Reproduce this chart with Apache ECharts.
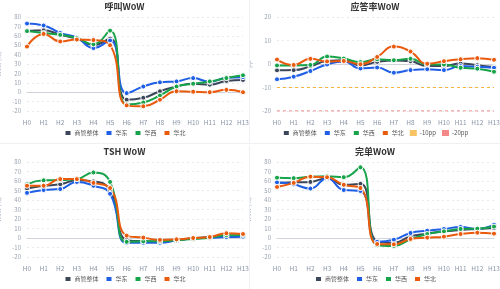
<!DOCTYPE html>
<html>
<head>
<meta charset="utf-8">
<script src="https://cdn.jsdelivr.net/npm/echarts@6/dist/echarts.min.js"></script>
<style>
  html, body { margin: 0; padding: 0; background: #fff; }
  .panel { position: absolute; width: 250px; height: 144px; box-sizing: border-box; }
  #p1 { left: 0; top: 0; border-right: 1px solid #eef0f4; border-bottom: 1px solid #eef0f4; }
  #p2 { left: 250px; top: 0; border-bottom: 1px solid #eef0f4; }
  #p3 { left: 0; top: 145px; border-right: 1px solid #eef0f4; }
  #p4 { left: 250px; top: 145px; }
</style>
</head>
<body>
<div id="p1" class="panel"></div>
<div id="p2" class="panel"></div>
<div id="p3" class="panel"></div>
<div id="p4" class="panel"></div>
<script>
// 小时
var hours = ['H0','H1','H2','H3','H4','H5','H6','H7','H8','H9','H10','H11','H12','H13'];
var regionNames = ['商管整体', '华东', '华西', '华北'];
var regionColors = ['#3b4658', '#1f5fe6', '#17a34a', '#ea5a0c'];

// 呼叫WoW
var callAll   = [65, 66, 61, 57, 50, 57, -8, -6, 1, 6, 9, 8, 12, 13];
var callEast  = [73, 71, 63, 58, 47, 55, -1, 6, 10.5, 11.5, 15, 11, 15.5, 16];
var callWest  = [65, 63, 61, 57.5, 51, 65.5, -13, -11, -3.5, 6, 9, 11.5, 15, 18];
var callNorth = [48.5, 62, 54, 56, 55.5, 50, -14, -15, -8, 1, 0.5, 0, 2.5, 0];

// 应答率WoW
var ansAll   = [-2.7, -2.6, -1, 1.3, 1.6, -0.6, 0.9, 1.5, 1.2, -0.9, -0.8, 0.2, -0.5, -1.3];
var ansEast  = [-6.5, -5.4, -3, -0.2, 1.1, -1.9, -1.5, -3.7, -2.6, -2.2, -2.6, -0.9, -1.2, -1.6];
var ansWest  = [-0.6, -0.6, -0.4, 3.2, 2.3, 0.8, 2, 1.6, 2.2, -0.2, -0.2, -1.6, -2, -3.3];
var ansNorth = [1.9, -0.4, 2.2, 1.1, 1.3, -0.1, 3, 7.4, 5.3, 0.1, 1.2, 2, 2.5, 1.8];
var ref10 = [-10, -10, -10, -10, -10, -10, -10, -10, -10, -10, -10, -10, -10, -10];
var ref20 = [-20, -20, -20, -20, -20, -20, -20, -20, -20, -20, -20, -20, -20, -20];

// TSH WoW
var tshAll   = [52, 55, 56.5, 60.7, 59.6, 50, -2, -3.5, -4, -2.5, -0.3, 1, 1.8, 2];
var tshEast  = [47.5, 50.5, 51.5, 59, 55, 46.5, -5, -5, -5, -2.5, -0.3, 0.3, 1, 1.4];
var tshWest  = [56.5, 60.7, 61, 62, 69, 59, -4, -3.5, -3.5, -2.5, -1, 0.3, 3, 3.2];
var tshNorth = [55, 55, 62, 62, 58, 52.6, 2.5, 0.4, -2, -1.4, 0, 1, 5, 4.2];

// 完单WoW
var doneAll   = [58, 58.6, 59, 63, 56, 57, -3.5, -5, 1.8, 4.6, 7, 8.4, 9.5, 10.5];
var doneEast  = [58.6, 56.5, 52, 63, 50.5, 49.5, -4, -1.8, 5.3, 7.7, 9.5, 11.6, 9.5, 14];
var doneWest  = [63.5, 63, 64.6, 65, 64, 74.4, -7.7, -8.4, -1.4, 4.2, 7, 9.5, 9.8, 12];
var doneNorth = [53.7, 58, 64.6, 64, 56, 52.6, -6.3, -6.7, -1, 0.4, 1.4, 4.2, 5.6, 4.6];

var fontFam = '"Noto Sans CJK SC", "Noto Sans", sans-serif';

function lineSeries(name, data, color) {
  return {
    name: name,
    type: 'line',
    data: data,
    smooth: true,
    symbol: 'circle',
    symbolSize: 5,
    lineStyle: { width: 2, color: color },
    itemStyle: { color: color, borderColor: '#fff', borderWidth: 1 }
  };
}

function makeChart(domId, title, yName, yMin, yMax, yStep, seriesData, extra) {
  var chart = echarts.init(document.getElementById(domId));
  var series = [];
  for (var i = 0; i < seriesData.length; i++) {
    series.push(lineSeries(regionNames[i], seriesData[i], regionColors[i]));
  }
  var legendNames = regionNames.slice();
  if (extra) {
    for (var j = 0; j < extra.length; j++) {
      series.push({
        name: extra[j].name,
        type: 'line',
        data: extra[j].data,
        symbol: 'none',
        lineStyle: { width: 1, type: [3, 3], color: extra[j].color },
        itemStyle: { color: extra[j].color, opacity: 0.8 }
      });
      legendNames.push(extra[j].name);
    }
  }
  chart.setOption({
    animation: false,
    textStyle: { fontFamily: fontFam },
    title: {
      text: title,
      left: 'center',
      top: 0,
      padding: [2, 5],
      textStyle: { fontSize: 9, fontWeight: 'bold', color: '#333', fontFamily: fontFam }
    },
    legend: {
      data: legendNames,
      bottom: 1,
      icon: 'rect',
      itemWidth: 7,
      itemHeight: 6,
      itemGap: 6,
      textStyle: { fontSize: 6, color: '#555', padding: [0, 0, 0, -2] }
    },
    grid: { left: 27, right: 6, top: 17, bottom: 32, outerBoundsMode: 'none' },
    xAxis: {
      type: 'category',
      data: hours,
      boundaryGap: false,
      axisLine: { onZero: true, lineStyle: { color: '#d0d4da' } },
      axisTick: { show: false },
      axisLabel: { fontSize: 6.5, color: '#8a94a6', margin: 8, interval: 0 }
    },
    yAxis: {
      type: 'value',
      name: yName,
      nameLocation: 'middle',
      nameGap: 16,
      nameTextStyle: { fontSize: 6, color: '#a9b4c6' },
      min: yMin,
      max: yMax,
      interval: yStep,
      axisLine: { show: false },
      axisTick: { show: false },
      axisLabel: { fontSize: 6, color: '#9aa3b2', margin: 6 },
      splitLine: { lineStyle: { color: '#e6e9ee', type: [2, 3] } }
    },
    series: series
  });
  return chart;
}

makeChart('p1', '呼叫WoW', 'WoW (%)', -20, 80, 10, [callAll, callEast, callWest, callNorth]);
makeChart('p2', '应答率WoW', 'pp', -20, 20, 10, [ansAll, ansEast, ansWest, ansNorth], [
  { name: '-10pp', data: ref10, color: '#f5b43c' },
  { name: '-20pp', data: ref20, color: '#f06a6a' }
]);
makeChart('p3', 'TSH WoW', 'WoW (%)', -20, 80, 10, [tshAll, tshEast, tshWest, tshNorth]);
makeChart('p4', '完单WoW', 'WoW (%)', -20, 80, 10, [doneAll, doneEast, doneWest, doneNorth]);
</script>
</body>
</html>
